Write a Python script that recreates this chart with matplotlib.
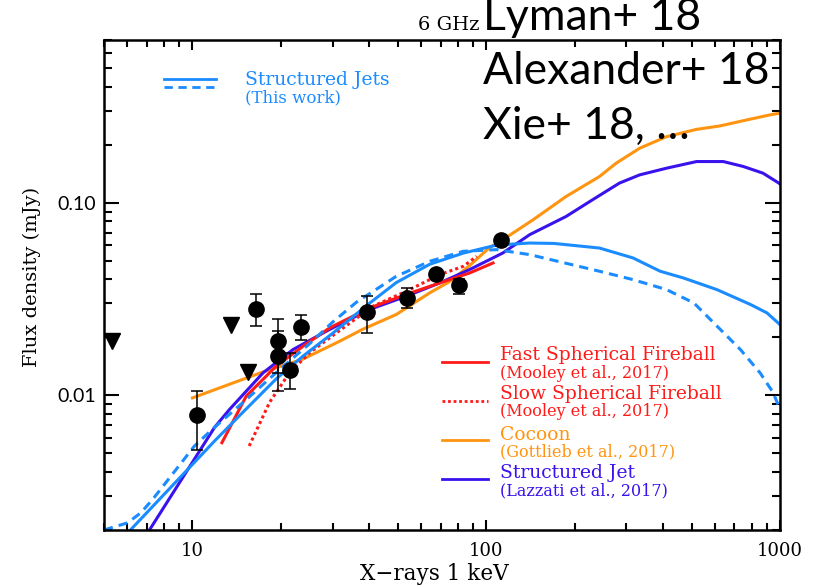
import numpy as np
import matplotlib.pyplot as plt
from matplotlib.ticker import FixedLocator, FixedFormatter, LogLocator, NullFormatter

# Radio detections at 6 GHz (days, mJy) with asymmetric errors
det_t = [10.4, 16.5, 19.5, 19.5, 21.4, 23.4, 39.4, 53.7, 67.6, 80.7, 112.7]
det_f = [0.0079, 0.0282, 0.0191, 0.0160, 0.0136, 0.0227, 0.0272, 0.0321, 0.0429, 0.0372, 0.0638]
det_hi = [0.0105, 0.0336, 0.0250, 0.0215, 0.0166, 0.0261, 0.0330, 0.0360, 0.0449, 0.0400, 0.0675]
det_lo = [0.0052, 0.0229, 0.0131, 0.0105, 0.0108, 0.0193, 0.0210, 0.0283, 0.0409, 0.0334, 0.0598]

# Upper limits
lim_t = [5.34, 13.5, 15.4]
lim_f = [0.0191, 0.0233, 0.0132]

# Model light curves
sj_t = [6.15, 11.9, 15.0, 19.3, 23.8, 30.0, 39.4, 49.4, 64.3, 83.6, 108.5, 140.6, 170,
        243, 316, 391, 469, 610, 795, 903, 1000]
sj_f = [0.002, 0.0058, 0.0083, 0.0122, 0.016, 0.021, 0.0295, 0.0385, 0.048, 0.0548, 0.0603,
        0.0618, 0.0615, 0.0582, 0.0517, 0.0441, 0.0407, 0.0354, 0.0296, 0.0268, 0.0233]

sjd_t = [5.0, 6.02, 6.68, 7.33, 10.16, 11.6, 15.0, 20.0, 25.0, 30.0, 36.2, 49.4, 64.3, 83.6,
         108.5, 140.6, 243, 316, 411, 509, 610, 733, 855, 945, 1000]
sjd_f = [0.002, 0.00218, 0.00246, 0.00289, 0.00546, 0.0066, 0.0093, 0.0138, 0.0185, 0.024,
         0.0305, 0.0415, 0.0497, 0.056, 0.0571, 0.0538, 0.0441, 0.0399, 0.0354, 0.0302, 0.0229,
         0.0173, 0.0131, 0.0104, 0.0085]

fast_t = [12.6, 15.25, 19.3, 23.8, 29.3, 40.0, 53.4, 69.6, 87.8, 105.5]
fast_f = [0.00568, 0.00992, 0.0142, 0.018, 0.0224, 0.0284, 0.0334, 0.0384, 0.0432, 0.0487]

slow_t = [15.6, 18.3, 21.4, 25.0, 30.9, 41.1, 53.4, 69.6, 83.6, 92.8]
slow_f = [0.00546, 0.0092, 0.0131, 0.0166, 0.0211, 0.029, 0.0347, 0.0424, 0.0468, 0.0527]

cocoon_t = [10.0, 17.3, 23.7, 31.7, 37.9, 49.4, 64.3, 75.1, 87.8, 102.6, 118.5, 144.4, 187,
            243, 277, 333, 411, 520, 624, 769, 925, 1000]
cocoon_f = [0.0097, 0.0132, 0.0154, 0.0191, 0.022, 0.0263, 0.0341, 0.039, 0.0472, 0.0585,
            0.0669, 0.0816, 0.1078, 0.1369, 0.1606, 0.192, 0.2204, 0.2405, 0.2505, 0.269, 0.286, 0.292]

lazz_t = [7.14, 11.9, 13.37, 17.4, 22.0, 29.3, 40.0, 53.4, 69.6, 87.8, 114, 140.6, 187, 230,
          284, 333, 411, 520, 641, 749, 875, 1000]
lazz_f = [0.002, 0.00683, 0.00845, 0.0131, 0.0173, 0.022, 0.0279, 0.0327, 0.0384, 0.045,
          0.0549, 0.0683, 0.0849, 0.1036, 0.1265, 0.1396, 0.1512, 0.1637, 0.1637, 0.1544, 0.1425, 0.1254]

C_SJ = '#1A8CFF'
C_RED = '#FF1A1A'
C_ORANGE = '#FF9411'
C_LAZZ = '#3A12EE'

W, H = 819, 587
SERIF = 'DejaVu Serif'


def fpos(px, py):
    return px / W, 1 - py / H


fig = plt.figure(figsize=(W / 100, H / 100), dpi=100)
ax = fig.add_axes([104 / W, 1 - 530 / H, (780 - 104) / W, (530 - 40) / H])
ax.set_xscale('log')
ax.set_yscale('log')
ax.set_xlim(5, 1000)
ax.set_ylim(0.002, 0.7)

lw = 2.2
ax.plot(cocoon_t, cocoon_f, color=C_ORANGE, lw=lw)
ax.plot(lazz_t, lazz_f, color=C_LAZZ, lw=lw)
ax.plot(fast_t, fast_f, color=C_RED, lw=lw)
ax.plot(slow_t, slow_f, color=C_RED, lw=lw, ls=(0, (1, 1)))
ax.plot(sj_t, sj_f, color=C_SJ, lw=lw)
ax.plot(sjd_t, sjd_f, color=C_SJ, lw=lw, ls=(0, (3, 2)))

yerr = [np.array(det_f) - np.array(det_lo), np.array(det_hi) - np.array(det_f)]
ax.errorbar(det_t, det_f, yerr=yerr, fmt='o', color='black', ms=11,
            elinewidth=1.1, capsize=4, capthick=1.1, zorder=5)
ax.plot(lim_t, lim_f, 'v', color='black', ms=11, zorder=5)

# axes frame and ticks
for s in ax.spines.values():
    s.set_linewidth(1.8)
ax.xaxis.set_major_locator(FixedLocator([10, 100, 1000]))
ax.xaxis.set_major_formatter(FixedFormatter(['10', '100', '1000']))
ax.xaxis.set_minor_locator(LogLocator(base=10, subs=np.arange(2, 10)))
ax.xaxis.set_minor_formatter(NullFormatter())
ax.yaxis.set_major_locator(FixedLocator([0.01, 0.1]))
ax.yaxis.set_major_formatter(FixedFormatter(['0.01', '0.10']))
ax.yaxis.set_minor_locator(LogLocator(base=10, subs=np.arange(2, 10)))
ax.yaxis.set_minor_formatter(NullFormatter())
ax.tick_params(axis='both', which='both', direction='in', top=True, right=True, width=1.5)
ax.tick_params(axis='x', which='major', length=7.5, pad=9)
ax.tick_params(axis='x', which='minor', length=5)
ax.tick_params(axis='y', which='major', length=11, pad=6)
ax.tick_params(axis='y', which='minor', length=6)
for lab in ax.get_xticklabels():
    lab.set_fontfamily(SERIF)
    lab.set_fontsize(13)
for lab in ax.get_yticklabels():
    lab.set_fontfamily('Lato')
    lab.set_fontsize(14)

fig.text(*fpos(434, 574), 'X\u2212rays 1 keV', fontfamily=SERIF, fontsize=15.5,
         ha='center', va='center')
fig.text(*fpos(32, 277), 'Flux density (mJy)', fontfamily=SERIF, fontsize=14,
         rotation=90, ha='center', va='center')

# legend: structured jets, top left
ax.plot([164, 216], [H - 79] * 2, color=C_SJ, lw=2, transform=None, clip_on=False)
ax.plot([164, 216], [H - 87] * 2, color=C_SJ, lw=2, ls=(0, (3, 2)), transform=None, clip_on=False)
fig.text(*fpos(245, 80), 'Structured Jets', color=C_SJ, fontfamily=SERIF, fontsize=13.5, va='center')
fig.text(*fpos(245, 98), '(This work)', color=C_SJ, fontfamily=SERIF, fontsize=12, va='center')

# legend: models, bottom right
entries = [
    ('Fast Spherical Fireball', '(Mooley et al., 2017)', C_RED, '-', 361.7, 355.5, 373),
    ('Slow Spherical Fireball', '(Mooley et al., 2017)', C_RED, (0, (1, 1)), 401, 394, 411.5),
    ('Cocoon', '(Gottlieb et al., 2017)', C_ORANGE, '-', 440, 435, 452),
    ('Structured Jet', '(Lazzati et al., 2017)', C_LAZZ, '-', 479, 473.5, 491),
]
for name, ref, col, ls, ly, ty, ry in entries:
    ax.plot([442, 488], [H - ly] * 2, color=col, lw=2, ls=ls, transform=None, clip_on=False)
    fig.text(*fpos(500, ty), name, color=col, fontfamily=SERIF, fontsize=13.5, va='center')
    fig.text(*fpos(500, ry), ref, color=col, fontfamily=SERIF, fontsize=11.5, va='center')

# references
fig.text(*fpos(480, 30), '6 GHz', fontfamily=SERIF, fontsize=14, ha='right', va='baseline')
fig.text(*fpos(483, 30), 'Lyman+ 18', fontfamily='Lato', fontsize=32, va='baseline')
fig.text(*fpos(483, 84), 'Alexander+ 18', fontfamily='Lato', fontsize=32, va='baseline')
fig.text(*fpos(483, 139), 'Xie+ 18, \u2026', fontfamily='Lato', fontsize=32, va='baseline')

fig.savefig('out.png', dpi=100)
